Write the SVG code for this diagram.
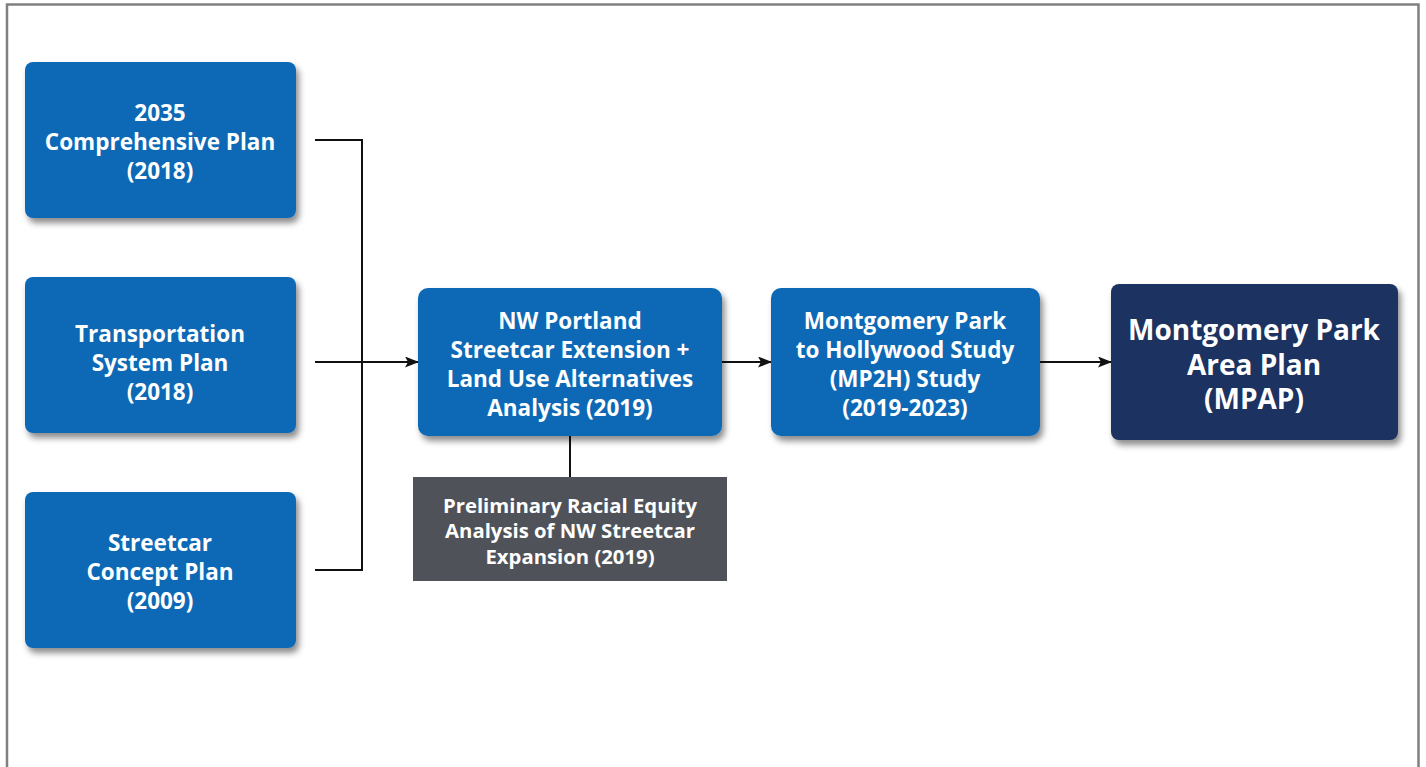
<svg xmlns="http://www.w3.org/2000/svg" width="1426" height="767" viewBox="0 0 1426 767">
<defs>
<filter id="sh" x="-10%" y="-10%" width="125%" height="130%">
<feDropShadow dx="3" dy="5" stdDeviation="3" flood-color="#000" flood-opacity="0.45"/>
</filter>
<marker id="ah" markerWidth="14" markerHeight="11" refX="13" refY="5.5" orient="auto" markerUnits="userSpaceOnUse">
<path d="M0,0 L14,5.5 L0,11 L3,5.5 Z" fill="#111"/>
</marker>
</defs>
<style>
.blue{fill:#0c69b5;filter:url(#sh)}
.navy{fill:#1c3060;filter:url(#sh)}
.gray{fill:#4f5359}
.t{font-family:"Open Sans","Noto Sans",sans-serif;font-weight:bold;fill:#fff;text-anchor:middle;dominant-baseline:central}
.s22{font-size:22.5px}
.s27{font-size:28px}
.s19{font-size:20.3px}
.c{fill:none;stroke:#111;stroke-width:2}
</style>
<rect x="0" y="0" width="1426" height="767" fill="#fff"/>
<path d="M7,767 V4.5 H1418.5 V767" fill="none" stroke="#808080" stroke-width="2.5"/>
<g id="connectors">
<path class="c" d="M315,140 H362 V570 H315"/>
<path class="c" d="M315,362 H418" marker-end="url(#ah)"/>
<path class="c" d="M722,362 H771" marker-end="url(#ah)"/>
<path class="c" d="M1040,362 H1111" marker-end="url(#ah)"/>
<path class="c" d="M570,436 V477" stroke-width="1.5"/>
</g>
<g id="n1">
<rect class="blue" x="25" y="62" width="271" height="156" rx="8"/>
<text class="t s22" x="160" y="112">2035</text>
<text class="t s22" x="160" y="141">Comprehensive Plan</text>
<text class="t s22" x="160" y="170">(2018)</text>
</g>
<g id="n2">
<rect class="blue" x="25" y="277" width="271" height="156" rx="8"/>
<text class="t s22" x="160" y="333">Transportation</text>
<text class="t s22" x="160" y="362">System Plan</text>
<text class="t s22" x="160" y="391">(2018)</text>
</g>
<g id="n3">
<rect class="blue" x="25" y="492" width="271" height="156" rx="8"/>
<text class="t s22" x="160" y="542">Streetcar</text>
<text class="t s22" x="160" y="571">Concept Plan</text>
<text class="t s22" x="160" y="600">(2009)</text>
</g>
<g id="n4">
<rect class="blue" x="418" y="288" width="304" height="148" rx="10"/>
<text class="t s22" x="570" y="320">NW Portland</text>
<text class="t s22" x="570" y="349">Streetcar Extension +</text>
<text class="t s22" x="570" y="378">Land Use Alternatives</text>
<text class="t s22" x="570" y="407">Analysis (2019)</text>
</g>
<g id="n5">
<rect class="blue" x="771" y="288" width="269" height="148" rx="10"/>
<text class="t s22" x="905" y="320">Montgomery Park</text>
<text class="t s22" x="905" y="349">to Hollywood Study</text>
<text class="t s22" x="905" y="378">(MP2H) Study</text>
<text class="t s22" x="905" y="407">(2019-2023)</text>
</g>
<g id="n6">
<rect class="navy" x="1111" y="284" width="287" height="156" rx="8"/>
<text class="t s27" x="1254" y="329">Montgomery Park</text>
<text class="t s27" x="1254" y="364">Area Plan</text>
<text class="t s27" x="1254" y="398">(MPAP)</text>
</g>
<g id="n7">
<rect class="gray" x="413" y="477" width="314" height="104"/>
<text class="t s19" x="570" y="505">Preliminary Racial Equity</text>
<text class="t s19" x="570" y="530">Analysis of NW Streetcar</text>
<text class="t s19" x="570" y="556">Expansion (2019)</text>
</g>
</svg>
